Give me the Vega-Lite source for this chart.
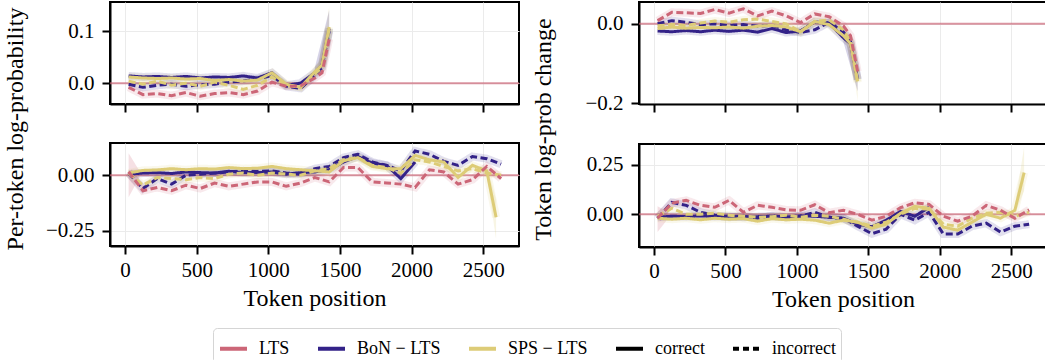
{
  "$schema": "https://vega.github.io/schema/vega-lite/v6.json",
  "padding": {"left": 4, "top": 1, "right": 0, "bottom": 0},
  "background": "white",
  "datasets": {
    "main": [
      {"p":"TL","x":25,"bc":0.014,"bi":-0.002,"sc":0.012,"si":0.004,"li":-0.008},
      {"p":"TL","x":125,"bc":0.012,"bi":-0.008,"sc":0.010,"si":-0.002,"li":-0.022},
      {"p":"TL","x":225,"bc":0.013,"bi":-0.004,"sc":0.009,"si":0.004,"li":-0.020},
      {"p":"TL","x":325,"bc":0.011,"bi":-0.002,"sc":0.010,"si":-0.004,"li":-0.024},
      {"p":"TL","x":425,"bc":0.013,"bi":-0.006,"sc":0.008,"si":0.000,"li":-0.018},
      {"p":"TL","x":525,"bc":0.010,"bi":-0.003,"sc":0.009,"si":-0.006,"li":-0.025},
      {"p":"TL","x":625,"bc":0.012,"bi":-0.002,"sc":0.005,"si":0.002,"li":-0.020},
      {"p":"TL","x":725,"bc":0.011,"bi":0.002,"sc":0.007,"si":-0.004,"li":-0.018},
      {"p":"TL","x":825,"bc":0.014,"bi":0.004,"sc":0.004,"si":-0.012,"li":-0.022},
      {"p":"TL","x":925,"bc":0.010,"bi":0.008,"sc":0.006,"si":-0.004,"li":-0.015},
      {"p":"TL","x":1025,"bc":0.020,"bi":0.015,"sc":0.020,"si":0.012,"li":0.002},
      {"p":"TL","x":1125,"bc":-0.004,"bi":-0.006,"sc":-0.002,"si":-0.004,"li":-0.006},
      {"p":"TL","x":1225,"bc":0.000,"bi":-0.010,"sc":-0.008,"si":-0.008,"li":-0.005},
      {"p":"TL","x":1325,"bc":0.020,"bi":0.015,"sc":0.022,"si":0.018,"li":0.010},
      {"p":"TL","x":1375,"bc":0.035,"bi":0.030,"sc":0.035,"si":0.030,"li":0.020},
      {"p":"TL","x":1425,"bc":0.105,"bi":0.100,"sc":0.108,"si":0.105,"li":0.085},

      {"p":"TR","x":25,"bc":-0.018,"bi":0.000,"sc":-0.012,"si":-0.005,"li":0.008},
      {"p":"TR","x":125,"bc":-0.020,"bi":0.008,"sc":-0.008,"si":-0.002,"li":0.029},
      {"p":"TR","x":225,"bc":-0.017,"bi":0.004,"sc":-0.011,"si":-0.004,"li":0.028},
      {"p":"TR","x":325,"bc":-0.020,"bi":-0.002,"sc":-0.009,"si":0.002,"li":0.026},
      {"p":"TR","x":425,"bc":-0.016,"bi":0.000,"sc":-0.010,"si":0.007,"li":0.036},
      {"p":"TR","x":525,"bc":-0.019,"bi":-0.004,"sc":-0.008,"si":0.004,"li":0.027},
      {"p":"TR","x":625,"bc":-0.016,"bi":-0.002,"sc":-0.011,"si":0.010,"li":0.038},
      {"p":"TR","x":725,"bc":-0.021,"bi":-0.006,"sc":-0.006,"si":0.012,"li":0.020},
      {"p":"TR","x":825,"bc":-0.012,"bi":-0.004,"sc":-0.004,"si":0.006,"li":0.032},
      {"p":"TR","x":925,"bc":-0.022,"bi":-0.015,"sc":-0.008,"si":0.000,"li":0.020},
      {"p":"TR","x":1025,"bc":-0.018,"bi":-0.022,"sc":-0.020,"si":-0.020,"li":0.003},
      {"p":"TR","x":1125,"bc":0.005,"bi":-0.015,"sc":0.006,"si":0.006,"li":0.025},
      {"p":"TR","x":1225,"bc":0.002,"bi":0.004,"sc":-0.002,"si":0.010,"li":0.018},
      {"p":"TR","x":1325,"bc":-0.035,"bi":-0.020,"sc":-0.030,"si":-0.015,"li":-0.005},
      {"p":"TR","x":1375,"bc":-0.050,"bi":-0.045,"sc":-0.050,"si":-0.045,"li":-0.030},
      {"p":"TR","x":1425,"bc":-0.140,"bi":-0.140,"sc":-0.145,"si":-0.148,"li":-0.120},

      {"p":"BL","x":25,"bc":0.005,"bi":0.010,"sc":0.010,"si":0.010,"li":0.016},
      {"p":"BL","x":125,"bc":0.010,"bi":-0.060,"sc":0.022,"si":-0.045,"li":-0.070},
      {"p":"BL","x":225,"bc":0.012,"bi":-0.015,"sc":0.024,"si":-0.010,"li":-0.055},
      {"p":"BL","x":325,"bc":0.008,"bi":-0.040,"sc":0.030,"si":-0.015,"li":-0.070},
      {"p":"BL","x":425,"bc":0.015,"bi":0.000,"sc":0.025,"si":-0.020,"li":-0.045},
      {"p":"BL","x":525,"bc":0.012,"bi":0.005,"sc":0.030,"si":-0.010,"li":-0.060},
      {"p":"BL","x":625,"bc":0.010,"bi":0.010,"sc":0.028,"si":-0.015,"li":-0.035},
      {"p":"BL","x":725,"bc":0.018,"bi":0.015,"sc":0.035,"si":0.005,"li":-0.050},
      {"p":"BL","x":825,"bc":0.012,"bi":0.020,"sc":0.030,"si":0.010,"li":-0.040},
      {"p":"BL","x":925,"bc":0.012,"bi":0.018,"sc":0.032,"si":0.000,"li":-0.030},
      {"p":"BL","x":1025,"bc":0.015,"bi":0.020,"sc":0.040,"si":0.010,"li":-0.030},
      {"p":"BL","x":1125,"bc":0.005,"bi":0.010,"sc":0.030,"si":0.005,"li":-0.050},
      {"p":"BL","x":1225,"bc":0.012,"bi":0.005,"sc":0.025,"si":0.000,"li":-0.035},
      {"p":"BL","x":1325,"bc":0.015,"bi":0.030,"sc":0.020,"si":0.020,"li":-0.010},
      {"p":"BL","x":1425,"bc":0.025,"bi":0.040,"sc":0.015,"si":0.030,"li":-0.030},
      {"p":"BL","x":1525,"bc":0.060,"bi":0.080,"sc":0.065,"si":0.070,"li":0.035},
      {"p":"BL","x":1625,"bc":0.085,"bi":0.095,"sc":0.080,"si":0.080,"li":0.035},
      {"p":"BL","x":1725,"bc":0.055,"bi":0.060,"sc":0.040,"si":0.045,"li":-0.030},
      {"p":"BL","x":1825,"bc":0.045,"bi":0.045,"sc":0.030,"si":0.035,"li":-0.035},
      {"p":"BL","x":1925,"bc":-0.015,"bi":0.020,"sc":0.030,"si":0.010,"li":-0.040},
      {"p":"BL","x":2025,"bc":0.060,"bi":0.110,"sc":0.090,"si":0.070,"li":-0.055},
      {"p":"BL","x":2125,"bc":null,"bi":0.095,"sc":0.070,"si":0.060,"li":0.025},
      {"p":"BL","x":2225,"bc":null,"bi":0.063,"sc":0.060,"si":0.040,"li":0.015},
      {"p":"BL","x":2325,"bc":null,"bi":0.045,"sc":-0.010,"si":0.020,"li":-0.040},
      {"p":"BL","x":2425,"bc":null,"bi":0.085,"sc":0.045,"si":0.030,"li":-0.020},
      {"p":"BL","x":2525,"bc":null,"bi":0.075,"sc":0.020,"si":0.010,"li":0.040},
      {"p":"BL","x":2590,"bc":null,"bi":null,"sc":-0.190,"si":null,"li":null},
      {"p":"BL","x":2625,"bc":null,"bi":0.050,"sc":null,"si":0.000,"li":-0.015},

      {"p":"BR","x":25,"bc":-0.015,"bi":-0.020,"sc":-0.020,"si":-0.010,"li":-0.020},
      {"p":"BR","x":125,"bc":-0.010,"bi":0.060,"sc":-0.025,"si":0.030,"li":0.056},
      {"p":"BR","x":225,"bc":-0.012,"bi":0.045,"sc":-0.020,"si":0.000,"li":0.070},
      {"p":"BR","x":325,"bc":-0.008,"bi":0.010,"sc":-0.028,"si":0.000,"li":0.045},
      {"p":"BR","x":425,"bc":-0.012,"bi":-0.005,"sc":-0.020,"si":0.005,"li":0.035},
      {"p":"BR","x":525,"bc":-0.010,"bi":-0.015,"sc":-0.025,"si":-0.005,"li":0.070},
      {"p":"BR","x":625,"bc":-0.015,"bi":-0.010,"sc":-0.022,"si":-0.010,"li":0.010},
      {"p":"BR","x":725,"bc":-0.012,"bi":-0.020,"sc":-0.035,"si":-0.015,"li":0.045},
      {"p":"BR","x":825,"bc":-0.010,"bi":-0.008,"sc":-0.022,"si":-0.012,"li":0.035},
      {"p":"BR","x":925,"bc":-0.015,"bi":-0.015,"sc":-0.028,"si":-0.005,"li":0.022},
      {"p":"BR","x":1025,"bc":-0.008,"bi":-0.010,"sc":-0.025,"si":-0.015,"li":0.020},
      {"p":"BR","x":1125,"bc":-0.010,"bi":0.010,"sc":-0.030,"si":-0.005,"li":0.048},
      {"p":"BR","x":1225,"bc":-0.015,"bi":-0.015,"sc":-0.045,"si":-0.010,"li":0.008},
      {"p":"BR","x":1325,"bc":-0.020,"bi":-0.020,"sc":-0.030,"si":-0.025,"li":0.020},
      {"p":"BR","x":1425,"bc":-0.050,"bi":-0.060,"sc":-0.040,"si":-0.040,"li":0.000},
      {"p":"BR","x":1525,"bc":-0.063,"bi":-0.098,"sc":-0.070,"si":-0.060,"li":-0.030},
      {"p":"BR","x":1625,"bc":-0.030,"bi":-0.075,"sc":-0.050,"si":-0.040,"li":-0.010},
      {"p":"BR","x":1725,"bc":0.014,"bi":0.000,"sc":0.005,"si":0.000,"li":0.033},
      {"p":"BR","x":1825,"bc":-0.010,"bi":-0.030,"sc":0.040,"si":0.030,"li":0.058},
      {"p":"BR","x":1925,"bc":0.035,"bi":0.010,"sc":0.030,"si":0.025,"li":0.050},
      {"p":"BR","x":2025,"bc":null,"bi":-0.100,"sc":-0.065,"si":-0.050,"li":-0.010},
      {"p":"BR","x":2125,"bc":null,"bi":-0.100,"sc":-0.080,"si":-0.060,"li":-0.035},
      {"p":"BR","x":2225,"bc":null,"bi":-0.060,"sc":-0.040,"si":-0.020,"li":-0.010},
      {"p":"BR","x":2325,"bc":null,"bi":-0.045,"sc":0.000,"si":0.005,"li":0.045},
      {"p":"BR","x":2425,"bc":null,"bi":-0.090,"sc":-0.020,"si":0.010,"li":0.020},
      {"p":"BR","x":2525,"bc":null,"bi":-0.060,"sc":0.020,"si":-0.010,"li":-0.020},
      {"p":"BR","x":2590,"bc":null,"bi":null,"sc":0.210,"si":null,"li":null},
      {"p":"BR","x":2625,"bc":null,"bi":-0.050,"sc":null,"si":0.010,"li":0.022}
    ],
    "bands": [
      {"p":"TL","m":"SPS − LTS","x":1325,"lo":0.012,"hi":0.032},
      {"p":"TL","m":"SPS − LTS","x":1375,"lo":0.025,"hi":0.050},
      {"p":"TL","m":"SPS − LTS","x":1425,"lo":0.070,"hi":0.148},
      {"p":"TL","m":"BoN − LTS","x":1325,"lo":0.010,"hi":0.030},
      {"p":"TL","m":"BoN − LTS","x":1425,"lo":0.080,"hi":0.140},
      {"p":"TR","m":"SPS − LTS","x":1325,"lo":-0.040,"hi":-0.022},
      {"p":"TR","m":"SPS − LTS","x":1375,"lo":-0.060,"hi":-0.035},
      {"p":"TR","m":"SPS − LTS","x":1425,"lo":-0.195,"hi":-0.105},
      {"p":"TR","m":"BoN − LTS","x":1325,"lo":-0.045,"hi":-0.028},
      {"p":"TR","m":"BoN − LTS","x":1425,"lo":-0.170,"hi":-0.110},
      {"p":"BL","m":"LTS","x":25,"lo":-0.100,"hi":0.100},
      {"p":"BL","m":"LTS","x":100,"lo":-0.010,"hi":0.020},
      {"p":"BL","m":"SPS − LTS","x":2525,"lo":0.000,"hi":0.045},
      {"p":"BL","m":"SPS − LTS","x":2590,"lo":-0.290,"hi":-0.110},
      {"p":"BR","m":"LTS","x":25,"lo":-0.090,"hi":0.040},
      {"p":"BR","m":"LTS","x":100,"lo":-0.020,"hi":0.010},
      {"p":"BR","m":"SPS − LTS","x":2525,"lo":0.000,"hi":0.040},
      {"p":"BR","m":"SPS − LTS","x":2590,"lo":0.120,"hi":0.340}
    ]
  },
  "resolve": {"scale": {"x": "independent", "y": "independent", "color": "shared", "strokeDash": "shared"}},
  "spacing": 10,
  "hconcat": [
    {
      "title": {"text": "Per-token log-probability", "orient": "left", "anchor": "middle", "offset": 16, "dx": 27},
      "spacing": 28,
      "resolve": {"scale": {"x": "independent", "y": "independent"}},
      "vconcat": [
        {
          "width": 409, "height": 102,
          "layer": [
            {"data": {"name": "bands"}, "transform": [{"filter": "datum.p == 'TL'"}],
             "mark": {"type": "area", "opacity": 0.2, "clip": true},
             "encoding": {
               "x": {"field": "x", "type": "quantitative", "scale": {"domain": [-105, 2750], "nice": false, "zero": false}, "axis": {"values": [0,500,1000,1500,2000,2500], "labels": false, "title": null}},
               "y": {"field": "lo", "type": "quantitative", "scale": {"domain": [-0.040, 0.156], "nice": false, "zero": false}, "axis": {"values": [0, 0.1], "format": ".1f", "title": null}},
               "y2": {"field": "hi"},
               "fill": {"field": "m", "type": "nominal", "scale": {"domain": ["LTS","BoN − LTS","SPS − LTS"], "range": ["#CC6677","#332288","#DDCC77"]}, "legend": null}
             }},
            {"data": {"values": [{"z": 0}]},
             "mark": {"type": "rule", "color": "#CC6677", "strokeWidth": 2, "opacity": 0.7},
             "encoding": {"y": {"field": "z", "type": "quantitative", "scale": {"domain": [-0.040, 0.156], "nice": false, "zero": false}, "axis": {"values": [0, 0.1], "format": ".1f", "title": null}}}},
            {"data": {"name": "main"},
             "transform": [
               {"filter": "datum.p == 'TL'"},
               {"fold": ["bc","bi","sc","si","li"], "as": ["k","v"]},
               {"filter": "isValid(datum.v)"},
               {"lookup": "k", "from": {"data": {"values": [
                 {"k":"bc","m":"BoN − LTS","o":"correct"},
                 {"k":"bi","m":"BoN − LTS","o":"incorrect"},
                 {"k":"sc","m":"SPS − LTS","o":"correct"},
                 {"k":"si","m":"SPS − LTS","o":"incorrect"},
                 {"k":"li","m":"LTS","o":"incorrect"}]}, "key": "k", "fields": ["m","o"]}}
             ],
             "encoding": {
               "x": {"field": "x", "type": "quantitative", "scale": {"domain": [-105, 2750], "nice": false, "zero": false}, "axis": {"values": [0,500,1000,1500,2000,2500], "labels": false, "title": null}},
               "y": {"field": "v", "type": "quantitative", "scale": {"domain": [-0.040, 0.156], "nice": false, "zero": false}, "axis": {"values": [0, 0.1], "format": ".1f", "title": null}},
               "color": {"field": "m", "type": "nominal", "scale": {"domain": ["LTS","BoN − LTS","SPS − LTS","correct","incorrect"], "range": ["#CC6677","#332288","#DDCC77","#000000","#000000"]},
                 "legend": {"orient": "none", "legendX": 103, "legendY": 326, "direction": "horizontal", "title": null, "symbolType": "stroke", "symbolStrokeWidth": 4, "symbolSize": 729, "labelFont": "Liberation Serif", "labelFontSize": 18, "labelColor": "#000", "labelOffset": 10, "columnPadding": 20, "padding": 5, "strokeColor": "#d5d5d5", "cornerRadius": 4, "fillColor": "#ffffff",
                   "encode": {"symbols": {"update": {"strokeDash": {"signal": "datum.value === 'incorrect' ? [6, 4] : [1, 0]"}}}}}},
               "strokeDash": {"field": "o", "type": "nominal", "scale": {"domain": ["correct","incorrect"], "range": [[1,0],[7,3.5]]}, "legend": null},
               "detail": {"field": "k"}
             },
             "layer": [
               {"mark": {"type": "line", "strokeWidth": 8, "opacity": 0.14, "clip": true}, "encoding": {"strokeDash": {"value": [1, 0]}}},
               {"mark": {"type": "line", "strokeWidth": 3, "clip": true}}
             ]}
          ]
        },
        {
          "width": 409, "height": 103,
          "layer": [
            {"data": {"name": "bands"}, "transform": [{"filter": "datum.p == 'BL'"}],
             "mark": {"type": "area", "opacity": 0.2, "clip": true},
             "encoding": {
               "x": {"field": "x", "type": "quantitative", "scale": {"domain": [-105, 2750], "nice": false, "zero": false}, "axis": {"values": [0,500,1000,1500,2000,2500], "format": "d", "title": "Token position"}},
               "y": {"field": "lo", "type": "quantitative", "scale": {"domain": [-0.32, 0.146], "nice": false, "zero": false}, "axis": {"values": [-0.25, 0], "format": ".2f", "title": null}},
               "y2": {"field": "hi"},
               "fill": {"field": "m", "type": "nominal", "scale": {"domain": ["LTS","BoN − LTS","SPS − LTS"], "range": ["#CC6677","#332288","#DDCC77"]}, "legend": null}
             }},
            {"data": {"values": [{"z": 0}]},
             "mark": {"type": "rule", "color": "#CC6677", "strokeWidth": 2, "opacity": 0.7},
             "encoding": {"y": {"field": "z", "type": "quantitative", "scale": {"domain": [-0.32, 0.146], "nice": false, "zero": false}, "axis": {"values": [-0.25, 0], "format": ".2f", "title": null}}}},
            {"data": {"name": "main"},
             "transform": [
               {"filter": "datum.p == 'BL'"},
               {"fold": ["bc","bi","sc","si","li"], "as": ["k","v"]},
               {"filter": "isValid(datum.v)"},
               {"lookup": "k", "from": {"data": {"values": [
                 {"k":"bc","m":"BoN − LTS","o":"correct"},
                 {"k":"bi","m":"BoN − LTS","o":"incorrect"},
                 {"k":"sc","m":"SPS − LTS","o":"correct"},
                 {"k":"si","m":"SPS − LTS","o":"incorrect"},
                 {"k":"li","m":"LTS","o":"incorrect"}]}, "key": "k", "fields": ["m","o"]}}
             ],
             "encoding": {
               "x": {"field": "x", "type": "quantitative", "scale": {"domain": [-105, 2750], "nice": false, "zero": false}, "axis": {"values": [0,500,1000,1500,2000,2500], "format": "d", "title": "Token position"}},
               "y": {"field": "v", "type": "quantitative", "scale": {"domain": [-0.32, 0.146], "nice": false, "zero": false}, "axis": {"values": [-0.25, 0], "format": ".2f", "title": null}},
               "color": {"field": "m", "type": "nominal", "scale": {"domain": ["LTS","BoN − LTS","SPS − LTS","correct","incorrect"], "range": ["#CC6677","#332288","#DDCC77","#000000","#000000"]},
                 "legend": {"orient": "none", "legendX": 103, "legendY": 326, "direction": "horizontal", "title": null, "symbolType": "stroke", "symbolStrokeWidth": 4, "symbolSize": 729, "labelFont": "Liberation Serif", "labelFontSize": 18, "labelColor": "#000", "labelOffset": 10, "columnPadding": 20, "padding": 5, "strokeColor": "#d5d5d5", "cornerRadius": 4, "fillColor": "#ffffff",
                   "encode": {"symbols": {"update": {"strokeDash": {"signal": "datum.value === 'incorrect' ? [6, 4] : [1, 0]"}}}}}},
               "strokeDash": {"field": "o", "type": "nominal", "scale": {"domain": ["correct","incorrect"], "range": [[1,0],[7,3.5]]}, "legend": null},
               "detail": {"field": "k"}
             },
             "layer": [
               {"mark": {"type": "line", "strokeWidth": 8, "opacity": 0.14, "clip": true}, "encoding": {"strokeDash": {"value": [1, 0]}}},
               {"mark": {"type": "line", "strokeWidth": 3, "clip": true}}
             ]}
          ]
        }
      ]
    },
    {
      "title": {"text": "Token log-prob change", "orient": "left", "anchor": "middle", "offset": 28, "dx": 27},
      "spacing": 28,
      "resolve": {"scale": {"x": "independent", "y": "independent"}},
      "vconcat": [
        {
          "width": 408, "height": 102,
          "layer": [
            {"data": {"name": "bands"}, "transform": [{"filter": "datum.p == 'TR'"}],
             "mark": {"type": "area", "opacity": 0.2, "clip": true},
             "encoding": {
               "x": {"field": "x", "type": "quantitative", "scale": {"domain": [-105, 2750], "nice": false, "zero": false}, "axis": {"values": [0,500,1000,1500,2000,2500], "labels": false, "title": null}},
               "y": {"field": "lo", "type": "quantitative", "scale": {"domain": [-0.202, 0.055], "nice": false, "zero": false}, "axis": {"values": [-0.2, 0], "format": ".1f", "title": null}},
               "y2": {"field": "hi"},
               "fill": {"field": "m", "type": "nominal", "scale": {"domain": ["LTS","BoN − LTS","SPS − LTS"], "range": ["#CC6677","#332288","#DDCC77"]}, "legend": null}
             }},
            {"data": {"values": [{"z": 0}]},
             "mark": {"type": "rule", "color": "#CC6677", "strokeWidth": 2, "opacity": 0.7},
             "encoding": {"y": {"field": "z", "type": "quantitative", "scale": {"domain": [-0.202, 0.055], "nice": false, "zero": false}, "axis": {"values": [-0.2, 0], "format": ".1f", "title": null}}}},
            {"data": {"name": "main"},
             "transform": [
               {"filter": "datum.p == 'TR'"},
               {"fold": ["bc","bi","sc","si","li"], "as": ["k","v"]},
               {"filter": "isValid(datum.v)"},
               {"lookup": "k", "from": {"data": {"values": [
                 {"k":"bc","m":"BoN − LTS","o":"correct"},
                 {"k":"bi","m":"BoN − LTS","o":"incorrect"},
                 {"k":"sc","m":"SPS − LTS","o":"correct"},
                 {"k":"si","m":"SPS − LTS","o":"incorrect"},
                 {"k":"li","m":"LTS","o":"incorrect"}]}, "key": "k", "fields": ["m","o"]}}
             ],
             "encoding": {
               "x": {"field": "x", "type": "quantitative", "scale": {"domain": [-105, 2750], "nice": false, "zero": false}, "axis": {"values": [0,500,1000,1500,2000,2500], "labels": false, "title": null}},
               "y": {"field": "v", "type": "quantitative", "scale": {"domain": [-0.202, 0.055], "nice": false, "zero": false}, "axis": {"values": [-0.2, 0], "format": ".1f", "title": null}},
               "color": {"field": "m", "type": "nominal", "scale": {"domain": ["LTS","BoN − LTS","SPS − LTS","correct","incorrect"], "range": ["#CC6677","#332288","#DDCC77","#000000","#000000"]},
                 "legend": {"orient": "none", "legendX": 103, "legendY": 326, "direction": "horizontal", "title": null, "symbolType": "stroke", "symbolStrokeWidth": 4, "symbolSize": 729, "labelFont": "Liberation Serif", "labelFontSize": 18, "labelColor": "#000", "labelOffset": 10, "columnPadding": 20, "padding": 5, "strokeColor": "#d5d5d5", "cornerRadius": 4, "fillColor": "#ffffff",
                   "encode": {"symbols": {"update": {"strokeDash": {"signal": "datum.value === 'incorrect' ? [6, 4] : [1, 0]"}}}}}},
               "strokeDash": {"field": "o", "type": "nominal", "scale": {"domain": ["correct","incorrect"], "range": [[1,0],[7,3.5]]}, "legend": null},
               "detail": {"field": "k"}
             },
             "layer": [
               {"mark": {"type": "line", "strokeWidth": 8, "opacity": 0.14, "clip": true}, "encoding": {"strokeDash": {"value": [1, 0]}}},
               {"mark": {"type": "line", "strokeWidth": 3, "clip": true}}
             ]}
          ]
        },
        {
          "width": 408, "height": 103,
          "layer": [
            {"data": {"name": "bands"}, "transform": [{"filter": "datum.p == 'BR'"}],
             "mark": {"type": "area", "opacity": 0.2, "clip": true},
             "encoding": {
               "x": {"field": "x", "type": "quantitative", "scale": {"domain": [-105, 2750], "nice": false, "zero": false}, "axis": {"values": [0,500,1000,1500,2000,2500], "format": "d", "title": "Token position"}},
               "y": {"field": "lo", "type": "quantitative", "scale": {"domain": [-0.165, 0.354], "nice": false, "zero": false}, "axis": {"values": [0, 0.25], "format": ".2f", "title": null}},
               "y2": {"field": "hi"},
               "fill": {"field": "m", "type": "nominal", "scale": {"domain": ["LTS","BoN − LTS","SPS − LTS"], "range": ["#CC6677","#332288","#DDCC77"]}, "legend": null}
             }},
            {"data": {"values": [{"z": 0}]},
             "mark": {"type": "rule", "color": "#CC6677", "strokeWidth": 2, "opacity": 0.7},
             "encoding": {"y": {"field": "z", "type": "quantitative", "scale": {"domain": [-0.165, 0.354], "nice": false, "zero": false}, "axis": {"values": [0, 0.25], "format": ".2f", "title": null}}}},
            {"data": {"name": "main"},
             "transform": [
               {"filter": "datum.p == 'BR'"},
               {"fold": ["bc","bi","sc","si","li"], "as": ["k","v"]},
               {"filter": "isValid(datum.v)"},
               {"lookup": "k", "from": {"data": {"values": [
                 {"k":"bc","m":"BoN − LTS","o":"correct"},
                 {"k":"bi","m":"BoN − LTS","o":"incorrect"},
                 {"k":"sc","m":"SPS − LTS","o":"correct"},
                 {"k":"si","m":"SPS − LTS","o":"incorrect"},
                 {"k":"li","m":"LTS","o":"incorrect"}]}, "key": "k", "fields": ["m","o"]}}
             ],
             "encoding": {
               "x": {"field": "x", "type": "quantitative", "scale": {"domain": [-105, 2750], "nice": false, "zero": false}, "axis": {"values": [0,500,1000,1500,2000,2500], "format": "d", "title": "Token position"}},
               "y": {"field": "v", "type": "quantitative", "scale": {"domain": [-0.165, 0.354], "nice": false, "zero": false}, "axis": {"values": [0, 0.25], "format": ".2f", "title": null}},
               "color": {"field": "m", "type": "nominal", "scale": {"domain": ["LTS","BoN − LTS","SPS − LTS","correct","incorrect"], "range": ["#CC6677","#332288","#DDCC77","#000000","#000000"]},
                 "legend": {"orient": "none", "legendX": 103, "legendY": 326, "direction": "horizontal", "title": null, "symbolType": "stroke", "symbolStrokeWidth": 4, "symbolSize": 729, "labelFont": "Liberation Serif", "labelFontSize": 18, "labelColor": "#000", "labelOffset": 10, "columnPadding": 20, "padding": 5, "strokeColor": "#d5d5d5", "cornerRadius": 4, "fillColor": "#ffffff",
                   "encode": {"symbols": {"update": {"strokeDash": {"signal": "datum.value === 'incorrect' ? [6, 4] : [1, 0]"}}}}}},
               "strokeDash": {"field": "o", "type": "nominal", "scale": {"domain": ["correct","incorrect"], "range": [[1,0],[7,3.5]]}, "legend": null},
               "detail": {"field": "k"}
             },
             "layer": [
               {"mark": {"type": "line", "strokeWidth": 8, "opacity": 0.14, "clip": true}, "encoding": {"strokeDash": {"value": [1, 0]}}},
               {"mark": {"type": "line", "strokeWidth": 3, "clip": true}}
             ]}
          ]
        }
      ]
    }
  ],
  "config": {
    "font": "Liberation Serif",
    "view": {"stroke": "#000000", "strokeWidth": 2},
    "title": {"font": "Liberation Serif", "fontSize": 24, "fontWeight": "normal", "color": "#000000"},
    "axis": {
      "labelFont": "Liberation Serif", "labelFontSize": 21, "labelColor": "#000000",
      "titleFont": "Liberation Serif", "titleFontSize": 24, "titleFontWeight": "normal", "titleColor": "#000000",
      "domainColor": "#000000", "domainWidth": 2, "tickColor": "#000000", "tickWidth": 2, "tickSize": 8,
      "gridColor": "#ebebeb", "gridWidth": 1, "grid": true, "labelFlush": false
    },
    "axisY": {"labelPadding": 8},
    "axisX": {"labelPadding": 5, "titlePadding": 6}
  }
}
